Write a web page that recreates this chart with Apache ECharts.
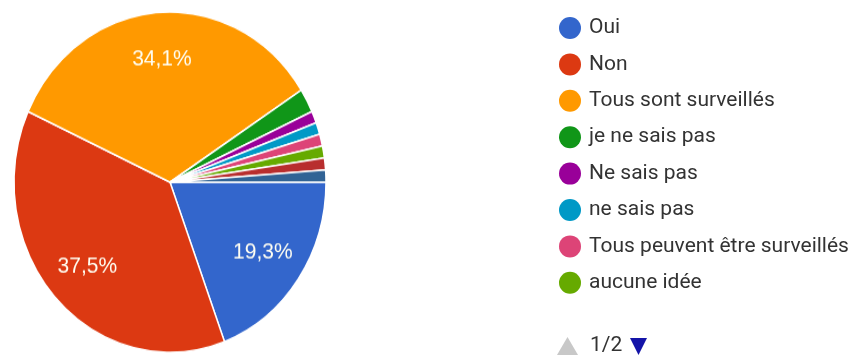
<!DOCTYPE html>
<html>
<head>
<meta charset="utf-8">
<script src="https://cdn.jsdelivr.net/npm/echarts@6/dist/echarts.min.js"></script>
<style>
  html, body { margin: 0; padding: 0; background: #fff; }
  #wrap { position: relative; width: 853px; height: 360px; overflow: hidden; }
  #leg { position: absolute; left: 0; top: 0; width: 853px; height: 360px; }
  #pie { position: absolute; left: 0; top: 0; width: 340px; height: 330px;
         transform: scaleY(1.0909); transform-origin: 0 0; }
</style>
</head>
<body>
<div id="wrap">
  <div id="leg"></div>
  <div id="pie"></div>
</div>
<script>
// ---- data ----
const categories = ['Oui', 'Non', 'Tous sont surveillés', 'je ne sais pas', 'Ne sais pas',
  'ne sais pas', 'Tous peuvent être surveillés', 'aucune idée', 'Autre', 'Sans avis'];
const counts = [17, 33, 30, 2, 1, 1, 1, 1, 1, 1];
const colors = ['#3366cc', '#dc3912', '#ff9900', '#109618', '#990099',
  '#0099c6', '#dd4477', '#66aa00', '#b82e2e', '#316395'];
const legendPageSize = 8;
const pageLabel = '1/2';

const total = counts.reduce((a, b) => a + b, 0);
const pct = v => (v / total * 100).toFixed(1).replace('.', ',') + '%';
const data = categories.map((n, i) => ({ name: n, value: counts[i], itemStyle: { color: colors[i] } }));

// ---- pie (stretched vertically like the reference) ----
const pie = echarts.init(document.getElementById('pie'), null, { renderer: 'canvas' });
pie.setOption({
  animation: false,
  series: [
    {
      type: 'pie',
      center: [170, 167],
      radius: [0, 156],
      startAngle: 0,
      clockwise: true,
      avoidLabelOverlap: false,
      label: { show: false },
      labelLine: { show: false },
      itemStyle: { borderColor: '#ffffff', borderWidth: 1.5 },
      emphasis: { disabled: true },
      data: data
    },
    {
      type: 'pie',
      silent: true,
      center: [170, 167],
      radius: [64, 156],
      startAngle: 0,
      clockwise: true,
      avoidLabelOverlap: false,
      itemStyle: { color: 'transparent' },
      labelLine: { show: false },
      label: {
        show: true,
        position: 'inside',
        color: '#fffef2',
        fontFamily: '"Liberation Sans", Arial, sans-serif',
        fontSize: 21,
        formatter: p => (p.value / total >= 0.1 ? pct(p.value) : '')
      },
      emphasis: { disabled: true },
      data: categories.map((n, i) => ({ name: n, value: counts[i] }))
    }
  ]
});

// ---- legend ----
const leg = echarts.init(document.getElementById('leg'), null, { renderer: 'canvas' });
leg.setOption({
  animation: false,
  legend: {
    type: 'plain',
    orient: 'vertical',
    left: 554,
    top: 12,
    icon: 'circle',
    itemWidth: 28,
    itemHeight: 22,
    itemGap: 14.4,
    selectedMode: false,
    textStyle: { fontFamily: 'Roboto, Arial, sans-serif', fontSize: 21, color: '#333333' },
    data: categories.slice(0, legendPageSize)
  },
  graphic: [
    { type: 'polygon', shape: { points: [[557, 355], [567.5, 337], [578, 355]] }, style: { fill: '#c8c8c8' } },
    { type: 'text', x: 590, y: 346, style: { text: pageLabel, fontFamily: 'Roboto, Arial, sans-serif', fontSize: 21, fill: '#333333', textVerticalAlign: 'middle' } },
    { type: 'polygon', shape: { points: [[630, 338], [647, 338], [638.5, 355]] }, style: { fill: '#1414a8' } }
  ],
  series: [{
    type: 'pie',
    center: [-2000, -2000],
    radius: 10,
    label: { show: false },
    data: data
  }]
});
</script>
</body>
</html>
